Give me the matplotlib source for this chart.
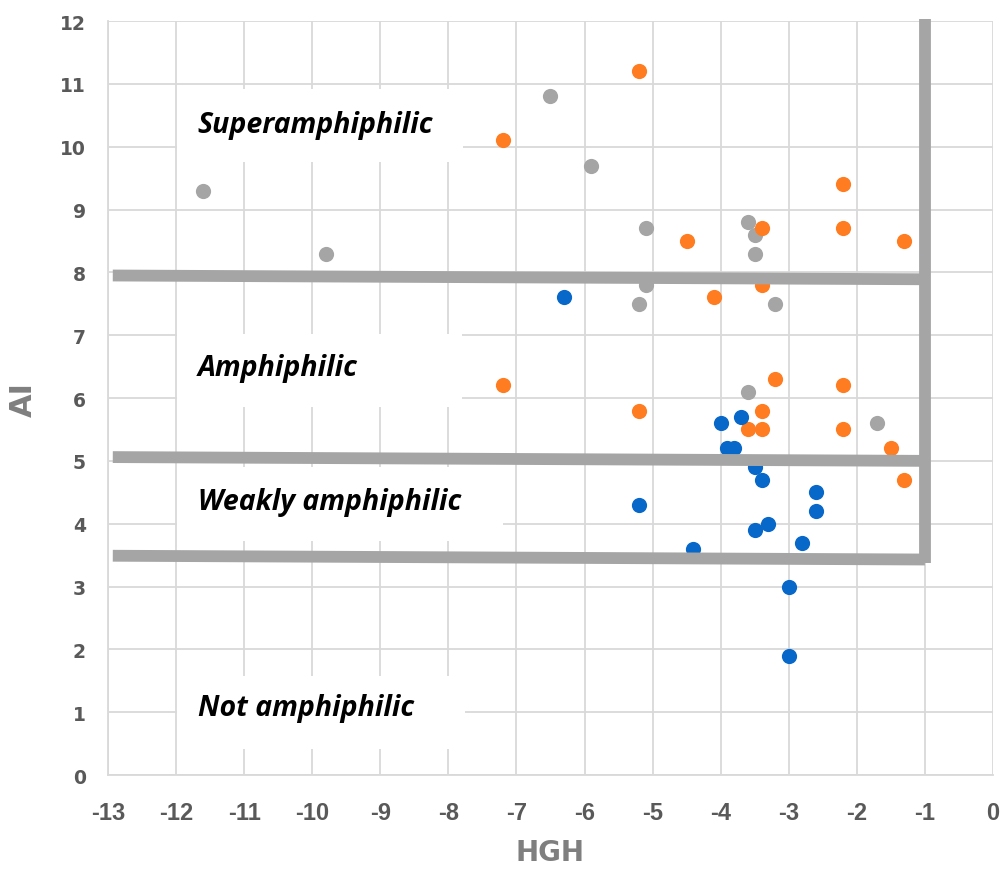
import matplotlib
matplotlib.use('Agg')
import matplotlib.pyplot as plt
from matplotlib.patches import Rectangle
from matplotlib import font_manager

plt.rcParams['axes.unicode_minus'] = False

# HGH / AI values
gray_x = [-11.6, -9.8, -6.5, -5.9, -5.1, -5.1, -5.2, -3.6, -3.5, -3.5, -3.2, -3.6, -1.7]
gray_y = [9.3, 8.3, 10.8, 9.7, 8.7, 7.8, 7.5, 8.8, 8.6, 8.3, 7.5, 6.1, 5.6]

orange_x = [-5.2, -7.2, -2.2, -3.4, -2.2, -4.5, -1.3, -4.1, -3.4, -7.2, -3.2, -2.2,
            -5.2, -3.4, -3.6, -3.4, -2.2, -1.5, -1.3]
orange_y = [11.2, 10.1, 9.4, 8.7, 8.7, 8.5, 8.5, 7.6, 7.8, 6.2, 6.3, 6.2,
            5.8, 5.8, 5.5, 5.5, 5.5, 5.2, 4.7]

blue_x = [-6.3, -4.0, -3.7, -3.9, -3.8, -3.5, -3.4, -5.2, -2.6, -2.6, -3.3, -3.5,
          -2.8, -4.4, -3.0, -3.0]
blue_y = [7.6, 5.6, 5.7, 5.2, 5.2, 4.9, 4.7, 4.3, 4.5, 4.2, 4.0, 3.9,
          3.7, 3.6, 3.0, 1.9]

x_ticks = list(range(-13, 1))
y_ticks = list(range(0, 13))

# class boundaries (left value, right value)
bound_left = [7.95, 5.06, 3.49]
bound_right = [7.89, 5.00, 3.43]
bound_x0, bound_x1 = -12.93, -1.0

labels = ['Superamphiphilic', 'Amphiphilic', 'Weakly amphiphilic', 'Not amphiphilic']
label_y = [10.36, 6.49, 4.35, 1.07]
box_y = [(9.76, 10.92), (5.86, 7.02), (3.72, 4.90), (0.41, 1.58)]
box_x1 = [-7.79, -7.8, -7.2, -7.75]

narrow = 'Liberation Sans Narrow'
try:
    font_manager.findfont(narrow, fallback_to_default=False)
except Exception:
    narrow = 'Liberation Sans'

fig = plt.figure(figsize=(10.03, 8.7), dpi=100)
ax = fig.add_axes([0.1077, 0.108, 0.8823, 0.8667])

ax.set_xlim(-13, 0)
ax.set_ylim(0, 12)
ax.set_xticks(x_ticks)
ax.set_xticklabels([str(v) for v in x_ticks], fontsize=17, fontweight='bold',
                   family=narrow)
ax.set_yticks(y_ticks)
ax.set_yticklabels([str(v) for v in y_ticks], fontsize=13.5, fontweight='bold',
                   family='DejaVu Sans')
ax.grid(True, color='#d9d9d9', lw=1.3, zorder=0)
ax.set_axisbelow(True)
for s in ['top', 'right']:
    ax.spines[s].set_visible(False)
for s in ['left', 'bottom']:
    ax.spines[s].set_color('#d9d9d9')
    ax.spines[s].set_linewidth(1.3)
ax.tick_params(length=0, colors='#595959')
ax.tick_params(axis='x', pad=19)
ax.tick_params(axis='y', pad=16)

ax.set_xlabel('HGH', fontsize=20, fontweight='bold', color='#7f7f7f', labelpad=10)
ax.set_ylabel('AI', fontsize=22, fontweight='bold', color='#7f7f7f', labelpad=16)

# white label boxes hiding the grid
for (y0, y1), x1, lab, ly in zip(box_y, box_x1, labels, label_y):
    ax.add_patch(Rectangle((-11.99, y0), x1 + 11.99, y1 - y0, facecolor='white',
                           edgecolor='none', zorder=1))
    ax.text(-11.68, ly, lab, fontsize=20.5, fontweight='bold', style='italic',
            family='Open Sans', va='center', ha='left', zorder=2)

ax.scatter(gray_x, gray_y, s=120, color='#a5a5a5', zorder=3, linewidths=0)
ax.scatter(orange_x, orange_y, s=120, color='#ff7c21', zorder=3, linewidths=0)
ax.scatter(blue_x, blue_y, s=120, color='#0868c9', zorder=3, linewidths=0)

for yl, yr in zip(bound_left, bound_right):
    ax.plot([bound_x0, bound_x1], [yl, yr], color='#a5a5a5', lw=8.5,
            solid_capstyle='butt', zorder=4)
ax.plot([bound_x1, bound_x1], [min(bound_right) - 0.06, 12.03], color='#a5a5a5', lw=8.5,
        solid_capstyle='butt', zorder=4, clip_on=False)

fig.savefig('out.png', dpi=100)
